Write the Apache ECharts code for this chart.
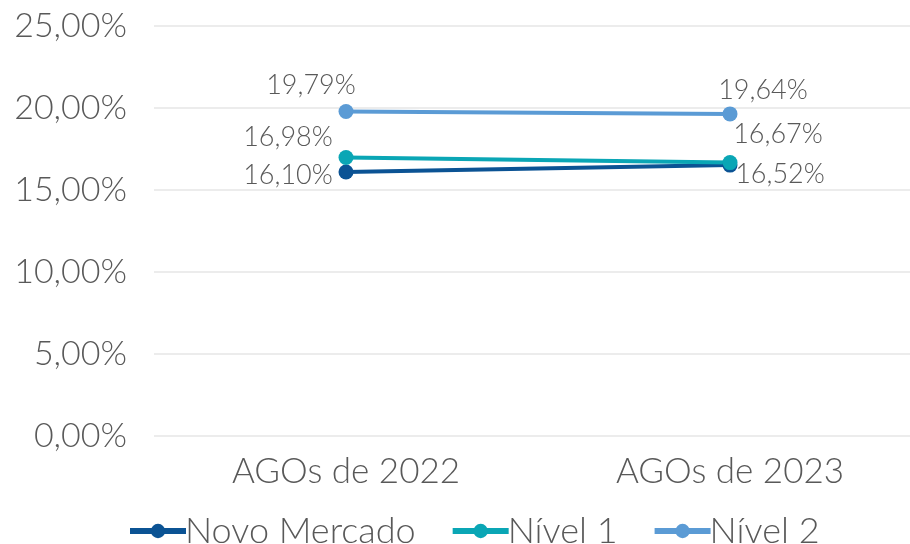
<!DOCTYPE html>
<html><head><meta charset="utf-8">
<script src="https://cdn.jsdelivr.net/npm/echarts@6/dist/echarts.min.js"></script>
<style>html,body{margin:0;padding:0;background:#fff}#c{width:910px;height:544px}</style>
</head><body><div id="c"></div>
<script>
const categories = ['AGOs de 2022', 'AGOs de 2023'];
const novoMercado = [16.10, 16.52];
const nivel1 = [16.98, 16.67];
const nivel2 = [19.79, 19.64];
const yTicks = [0, 5, 10, 15, 20, 25];

const FONT = 'Lato';
const TXT = '#595959';
const fmt = v => v.toFixed(2).replace('.', ',') + '%';

function mk(name, data, color, offsets) {
  return {
    name, type: 'line', data: data.map((v, i) => ({
      value: v,
      label: { show: true, position: 'inside', offset: offsets[i], formatter: p => fmt(p.value),
        color: TXT, fontFamily: FONT, fontWeight: 300, fontSize: 27 }
    })),
    symbol: 'circle', symbolSize: 15, lineStyle: { width: 4, color }, itemStyle: { color },
    z: 3
  };
}

const chart = echarts.init(document.getElementById('c'), null, { renderer: 'canvas' });
chart.setOption({
  animation: false,
  color: ['#0b5394', '#0aa6b5', '#5b9bd5'],
  grid: { left: 154, right: -12, top: 26, bottom: 108, outerBoundsMode: 'none', containLabel: false },
  legend: {
    bottom: -10, left: 122, itemWidth: 56, itemHeight: 18, itemGap: 34,
    itemStyle: { borderWidth: 0 },
    lineStyle: { width: 6 },
    textStyle: { color: TXT, fontFamily: FONT, fontWeight: 300, fontSize: 36, padding: [0, 0, 0, -6] },
    data: ['Novo Mercado', 'Nível 1', 'Nível 2']
  },
  xAxis: {
    type: 'category', data: categories, boundaryGap: true,
    axisLine: { show: false }, axisTick: { show: false },
    axisLabel: { color: TXT, fontFamily: FONT, fontWeight: 300, fontSize: 35, margin: 18 }
  },
  yAxis: {
    type: 'value', min: 0, max: 25, interval: 5,
    axisLabel: { color: TXT, fontFamily: FONT, fontWeight: 300, fontSize: 34, margin: 27,
      formatter: v => yTicks.includes(v) ? fmt(v) : '' },
    splitLine: { lineStyle: { color: '#ececec', width: 2 } },
    axisLine: { show: false }, axisTick: { show: false }
  },
  series: [
    mk('Novo Mercado', novoMercado, '#0b5394', [[-58, 3], [50, 9]]),
    mk('Nível 1', nivel1, '#0aa6b5', [[-58, -20], [48, -28]]),
    mk('Nível 2', nivel2, '#5b9bd5', [[-35, -26], [33, -24]])
  ]
});
</script></body></html>
